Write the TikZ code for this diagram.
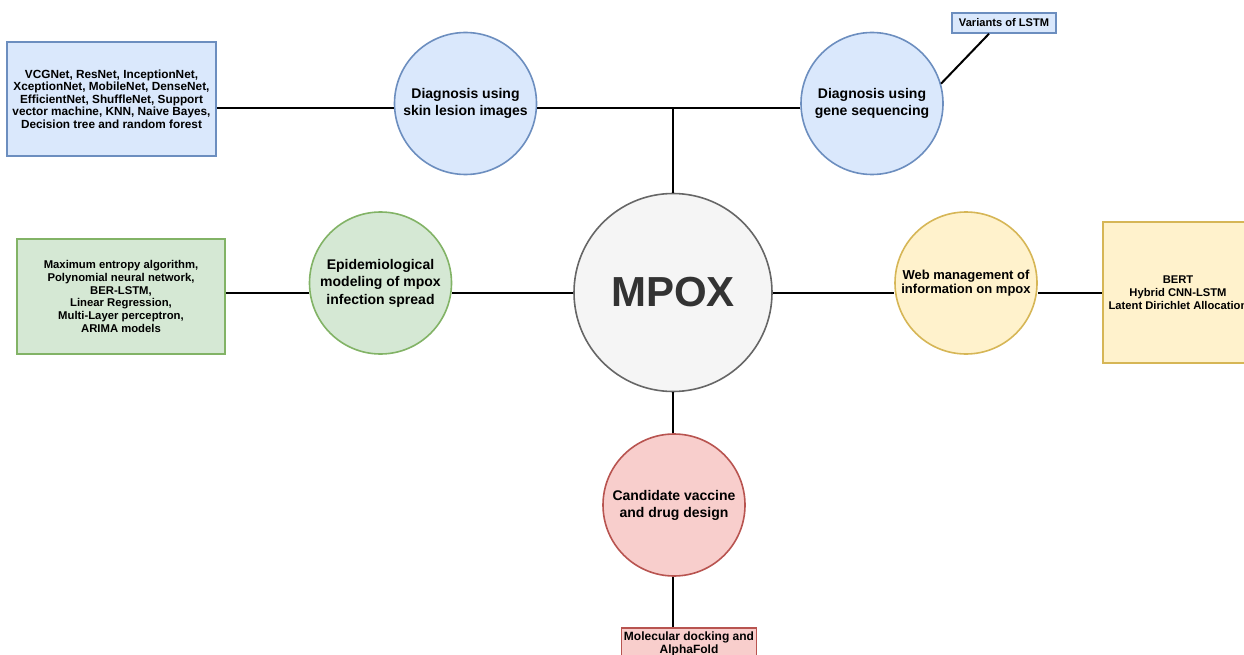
\documentclass[tikz,border=0pt]{standalone}
\usepackage{fontspec}
\setmainfont{Liberation Sans}
\definecolor{bluefill}{HTML}{DAE8FC}
\definecolor{blueline}{HTML}{6C8EBF}
\definecolor{greenfill}{HTML}{D5E8D4}
\definecolor{greenline}{HTML}{82B366}
\definecolor{yellowfill}{HTML}{FFF2CC}
\definecolor{yellowline}{HTML}{D6B656}
\definecolor{redfill}{HTML}{F8CECC}
\definecolor{redline}{HTML}{B85450}
\definecolor{greyfill}{HTML}{F5F5F5}
\definecolor{greyline}{HTML}{666666}
\definecolor{greytext}{HTML}{333333}
\begin{document}
\begin{tikzpicture}[x=1pt, y=-1pt,
  topic/.style={circle, draw, line width=1.6pt, minimum size=142pt, inner sep=0pt,
    align=center, text=black, font=\fontsize{14}{17}\selectfont\bfseries},
  methods/.style={rectangle, draw, line width=1.5pt, inner sep=0pt, align=center,
    text=black, font=\fontsize{11.8}{12.6}\selectfont\bfseries},
  bluestyle/.style={fill=bluefill, draw=blueline},
  greenstyle/.style={fill=greenfill, draw=greenline},
  yellowstyle/.style={fill=yellowfill, draw=yellowline},
  redstyle/.style={fill=redfill, draw=redline},
  link/.style={line width=2pt, black}
]
\useasboundingbox (0,0) rectangle (1244,655);
\begin{scope}
\clip (0,0) rectangle (1244,655);

% central hub
\node[circle, draw=greyline, fill=greyfill, line width=1.6pt, minimum size=198pt,
  inner sep=0pt, text=greytext, font=\fontsize{42}{48}\selectfont\bfseries]
  (mpox) at (673,292.5) {MPOX};

% research topics
\node[topic, bluestyle] (skin) at (465.5,103.5) {Diagnosis using\\skin lesion images};
\node[topic, bluestyle] (gene) at (872,103.5) {Diagnosis using\\gene sequencing};
\node[topic, greenstyle, font=\fontsize{14}{17.5}\selectfont\bfseries]
  (epi) at (380.5,283) {Epidemiological\\modeling of mpox\\infection spread};
\node[topic, yellowstyle, font=\fontsize{13}{14.5}\selectfont\bfseries]
  (web) at (966,283) {Web management of\\information on mpox};
\node[topic, redstyle] (vac) at (674,505) {Candidate vaccine\\and drug design};

% methods used for each topic
\node[methods, bluestyle, minimum width=209pt, minimum height=114pt]
  (skinbox) at (111.5,99) {VCGNet, ResNet, InceptionNet,\\XceptionNet, MobileNet, DenseNet,\\EfficientNet, ShuffleNet, Support\\vector machine, KNN, Naive Bayes,\\Decision tree and random forest};
\node[methods, bluestyle, minimum width=104pt, minimum height=20pt,
  font=\fontsize{11.1}{12}\selectfont\bfseries]
  (varbox) at (1004,23) {Variants of LSTM};
\node[methods, greenstyle, minimum width=208pt, minimum height=115pt,
  font=\fontsize{11.3}{12.7}\selectfont\bfseries]
  (epibox) at (121,296.5) {Maximum entropy algorithm,\\Polynomial neural network,\\BER-LSTM,\\Linear Regression,\\Multi-Layer perceptron,\\ARIMA models};
\node[methods, yellowstyle, minimum width=150pt, minimum height=141pt,
  font=\fontsize{11.2}{13}\selectfont\bfseries]
  (webbox) at (1178,292.5) {BERT\\Hybrid CNN-LSTM\\Latent Dirichlet Allocation};
\node[methods, redstyle, minimum width=135pt, minimum height=31pt,
  font=\fontsize{12}{13}\selectfont\bfseries]
  (molbox) at (689,643.5) {Molecular docking and\\AlphaFold};

% connectors
\coordinate (bus) at (673,108);
\coordinate (varfoot) at ([xshift=-15pt]varbox.south);
\draw[link] (bus -| skinbox.east) -- (bus -| skin.west);
\draw[link] (bus -| skin.east) -- (bus -| gene.west);
\draw[link] (mpox.north) -- (bus);
\draw[link] (varfoot) -- (gene.16);
\draw[link] (mpox.west -| epibox.east) -- (mpox.west -| epi.west);
\draw[link] (mpox.west -| epi.east) -- (mpox.west);
\draw[link] (mpox.east) -- (mpox.east -| web.west);
\draw[link] (mpox.east -| web.east) -- (mpox.east -| webbox.west);
\draw[link] (mpox.south) -- (mpox.south |- vac.north);
\draw[link] (mpox.south |- vac.south) -- (mpox.south |- molbox.north);
\end{scope}
\end{tikzpicture}
\end{document}
